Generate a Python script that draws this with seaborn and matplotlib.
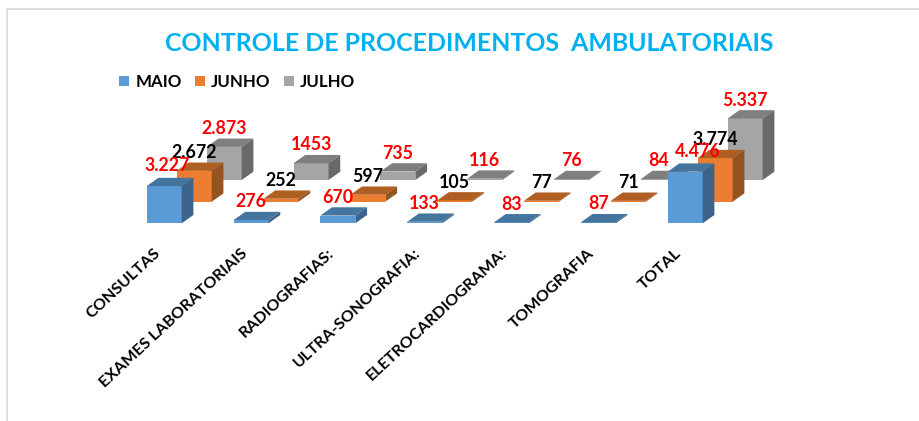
import numpy as np
import seaborn as sns
import matplotlib.pyplot as plt
from matplotlib.lines import Line2D
from matplotlib.patches import Polygon
from matplotlib.transforms import ScaledTranslation

categorias = ['CONSULTAS', 'EXAMES LABORATORIAIS', 'RADIOGRAFIAS:', 'ULTRA-SONOGRAFIA:',
              'ELETROCARDIOGRAMA:', 'TOMOGRAFIA', 'TOTAL']
maio = [3227, 276, 670, 133, 83, 87, 4476]
junho = [2672, 252, 597, 105, 77, 71, 3774]
julho = [2873, 1453, 735, 116, 76, 84, 5337]
rotulos_maio = ['3.227', '276', '670', '133', '83', '87', '4.476']
rotulos_junho = ['2.672', '252', '597', '105', '77', '71', '3.774']
rotulos_julho = ['2.873', '1453', '735', '116', '76', '84', '5.337']

sns.set_theme(style='white')
plt.rcParams['font.family'] = ['Lato', 'DejaVu Sans']

W, H = 919, 421
PX_X = 86.83  # pixels por categoria
PX_Y = 0.01153  # pixels por unidade
BASE_PX = 223.3
CENTRO0_PX = 164.2
ESQ_PX, DIR_PX, TOPO_PX = 100, 800, 90

fig = plt.figure(figsize=(W / 100, H / 100), dpi=100)
ax = fig.add_axes([ESQ_PX / W, 1 - BASE_PX / H, (DIR_PX - ESQ_PX) / W, (BASE_PX - TOPO_PX) / H])

# deslocamento de profundidade, convertido para as unidades dos eixos
passo_x, passo_y = 30 / PX_X, 21.65 / PX_Y
prof_x, prof_y = 11.7 / PX_X, 8.3 / PX_Y
largura = 35 / PX_X

# de tras para frente: JULHO, JUNHO, MAIO
series = [
    ('JULHO', julho, rotulos_julho, 2, 'red', '#A5A5A5', '#7F7F7F', '#696969'),
    ('JUNHO', junho, rotulos_junho, 1, 'black', '#ED7D31', '#B05F22', '#94531F'),
    ('MAIO', maio, rotulos_maio, 0, 'red', '#5B9BD5', '#44759F', '#3C648A'),
]
pos = np.arange(len(categorias))

for nome, valores, rotulos, n, cor_txt, frente, topo, lado in series:
    base = n * passo_y
    antes = len(ax.patches)
    sns.barplot(x=pos + n * passo_x, y=valores, native_scale=True, width=largura,
                color=frente, saturation=1, label=nome, bottom=base, ax=ax, legend=True,
                linewidth=0)
    for p in ax.patches[antes:]:
        x0, x1 = p.get_x(), p.get_x() + p.get_width()
        y0, y1 = p.get_y(), p.get_y() + p.get_height()
        ax.add_patch(Polygon([(x0, y1), (x1, y1), (x1 + prof_x, y1 + prof_y), (x0 + prof_x, y1 + prof_y)],
                             closed=True, facecolor=topo, edgecolor='none'))
        ax.add_patch(Polygon([(x1, y0), (x1, y1), (x1 + prof_x, y1 + prof_y), (x1 + prof_x, y0 + prof_y)],
                             closed=True, facecolor=lado, edgecolor='none'))

ax.set_xlim((ESQ_PX - CENTRO0_PX) / PX_X, (DIR_PX - CENTRO0_PX) / PX_X)
ax.set_ylim(0, (BASE_PX - TOPO_PX) / PX_Y)

# rotulos por cima de tudo
for nome, valores, rotulos, n, cor_txt, frente, topo, lado in series:
    for i, (v, r) in enumerate(zip(valores, rotulos)):
        dx, dy = 0, 10
        if r == '3.227':
            dx, dy = 3, 12.5
        if r == '4.476':
            dx, dy = 13, 12.2
        ax.annotate(r, (i + n * passo_x, v + n * passo_y + prof_y), xytext=(dx * 0.72, dy * 0.72),
                    textcoords='offset points', ha='center', va='center', color=cor_txt,
                    fontsize=12.8, fontweight='bold', zorder=10)

ax.set_xticks(pos)
ax.set_xticklabels(categorias, rotation=43, ha='right', va='center', rotation_mode='anchor',
                   fontsize=11.6, fontweight='bold', color='black')
ax.tick_params(axis='x', length=0, pad=20)
desloca = ScaledTranslation(-6 / 100, 0, fig.dpi_scale_trans)
for t in ax.get_xticklabels():
    t.set_transform(t.get_transform() + desloca)
ax.set_yticks([])
ax.set_xlabel('')
ax.set_ylabel('')
sns.despine(ax=ax, left=True, bottom=True)
ax.patch.set_alpha(0)

h, l = ax.get_legend_handles_labels()
fig.legend(h[::-1], l[::-1], loc='center left', bbox_to_anchor=(104 / W, 1 - 82 / H), ncol=3, frameon=False,
           prop={'weight': 'bold', 'size': 12.2}, handlelength=0.6, handleheight=0.6,
           handletextpad=0.35, columnspacing=0.78, labelcolor='black')
if ax.get_legend() is not None:
    ax.get_legend().remove()

fig.text(469 / W, 1 - 43.5 / H, 'CONTROLE DE PROCEDIMENTOS  AMBULATORIAIS', ha='center', va='center',
         color='#00B0F0', fontsize=17.9, fontweight='bold')

fig.add_artist(Line2D([7 / W, 7 / W, 1], [0, 1 - 9 / H, 1 - 9 / H], color='#D9D9D9', lw=1.2))

fig.savefig('out.png', dpi=100)
